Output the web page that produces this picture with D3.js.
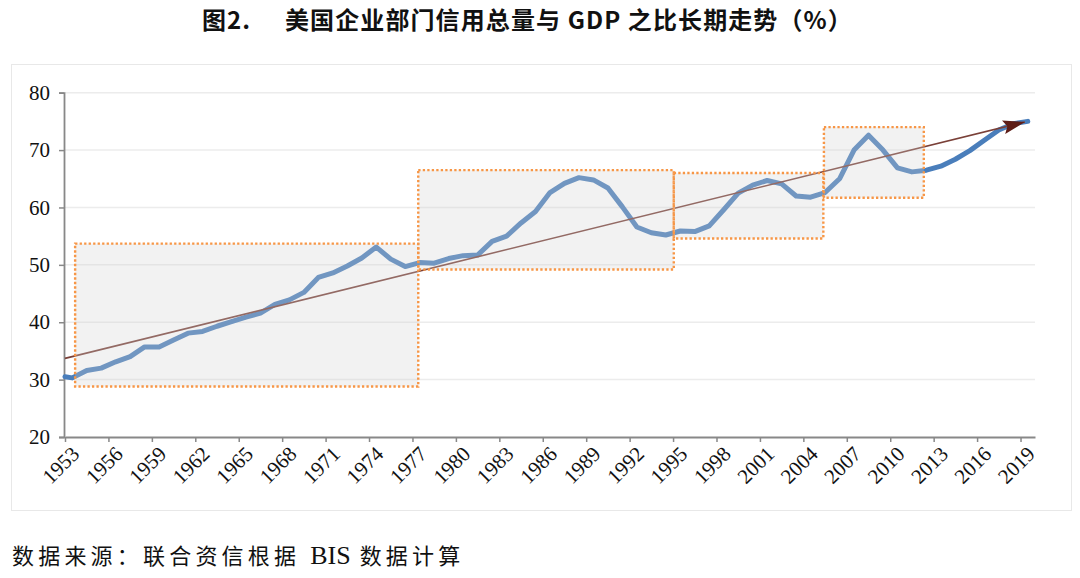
<!DOCTYPE html>
<html>
<head>
<meta charset="utf-8">
<script src="https://cdn.jsdelivr.net/npm/d3@7/dist/d3.min.js"></script>
<style>
  html, body { margin: 0; padding: 0; background: #ffffff; }
  svg { display: block; }
</style>
</head>
<body>
<svg id="chart" width="1080" height="578"></svg>
<script>
// ---------- data ----------
const titlePrefix = "图2.";
const titleMain = "美国企业部门信用总量与 GDP 之比长期走势（%）";
const sourceParts = ["数据来源：联合资信根据", "BIS", "数据计算"];

const years = d3.range(1953, 2020);           // annual observations (plotted mid-year)
const creditToGdp = [
  30.3, 31.6, 32.0, 33.1, 34.0, 35.7, 35.7, 36.9, 38.1, 38.4,   // 1953-1962
  39.3, 40.1, 40.9, 41.6, 43.1, 43.9, 45.2, 47.8, 48.6, 49.8,   // 1963-1972
  51.2, 53.1, 51.0, 49.7, 50.4, 50.3, 51.1, 51.6, 51.7, 54.1,   // 1973-1982
  55.0, 57.3, 59.3, 62.6, 64.2, 65.2, 64.8, 63.4, 60.1, 56.6,   // 1983-1992
  55.6, 55.2, 55.9, 55.8, 56.8, 59.6, 62.5, 63.9, 64.7, 64.1,   // 1993-2002
  62.0, 61.8, 62.6, 65.0, 70.0, 72.6, 70.0, 66.9, 66.2, 66.5,   // 2003-2012
  67.2, 68.4, 69.9, 71.7, 73.5, 74.6, 75.0                      // 2013-2019
];
const seriesStart = { year: 1953, value: 30.5 };

const xTicks = d3.range(1953, 2020, 3);
const yTicks = [20, 30, 40, 50, 60, 70, 80];

// long-run trend line (start, end)
const trendYears = [1953, 2019.3];
const trendValues = [33.7, 74.9];

// highlighted phases
const phaseX0 = [1953.7, 1977.4, 1995.05, 2005.42];
const phaseX1 = [1977.4, 1995.05, 2005.38, 2012.32];
const phaseLow = [28.8, 49.2, 54.6, 61.7];
const phaseHigh = [53.7, 66.5, 66.0, 74.0];

// ---------- layout ----------
const svg = d3.select("#chart");
const plot = { left: 65, right: 1035, top: 92.7, bottom: 437 };
const serif = "'Liberation Serif', 'DejaVu Serif', serif";

const x = d3.scaleLinear().domain([1953, 2020]).range([plot.left, plot.right]);
const y = d3.scaleLinear().domain([20, 80]).range([plot.bottom, plot.top]);

// outer frame
svg.append("rect")
  .attr("x", 11.5).attr("y", 64.5).attr("width", 1060).attr("height", 446)
  .attr("fill", "#ffffff").attr("stroke", "#e8e8e8").attr("stroke-width", 1);

// title
const title = svg.append("text")
  .attr("y", 29)
  .style("font-family", "'Noto Sans CJK SC', 'Noto Sans', sans-serif")
  .attr("font-size", 24).attr("font-weight", "bold").attr("fill", "#111")
  .attr("letter-spacing", 1.1);
title.append("tspan").attr("x", 202).text(titlePrefix);
title.append("tspan").attr("x", 285).text(titleMain);

// source
const src = svg.append("text")
  .attr("x", 12).attr("y", 564)
  .attr("font-size", 22).attr("fill", "#111")
  .style("font-family", "'Noto Sans CJK SC', serif");
src.append("tspan").attr("letter-spacing", 4.2).text(sourceParts[0]);
src.append("tspan").attr("dx", 10).attr("letter-spacing", 0).attr("font-size", 26)
  .style("font-family", serif).text(sourceParts[1]);
src.append("tspan").attr("dx", 9).attr("letter-spacing", 4.2).text(sourceParts[2]);

// gridlines
svg.append("g")
  .selectAll("line")
  .data(yTicks.filter(d => d > 20))
  .join("line")
  .attr("x1", plot.left).attr("x2", plot.right)
  .attr("y1", d => y(d)).attr("y2", d => y(d))
  .attr("stroke", "#ececec").attr("stroke-width", 1.5);

// y axis
const yAxis = svg.append("g")
  .attr("transform", `translate(${plot.left - 1},0)`)
  .call(d3.axisLeft(y).tickValues(yTicks).tickSize(5).tickPadding(9).tickFormat(d3.format("d")));
yAxis.attr("font-family", null);
yAxis.select(".domain").attr("stroke", "#888").attr("stroke-width", 1.8);
yAxis.selectAll(".tick line").attr("stroke", "#888").attr("stroke-width", 1.5);
yAxis.selectAll(".tick text")
  .style("font-family", serif)
  .attr("font-size", 21).attr("fill", "#111");

// x axis
const xAxis = svg.append("g")
  .attr("transform", `translate(0,${plot.bottom})`)
  .call(d3.axisBottom(x).tickValues(xTicks).tickSize(5).tickSizeOuter(0).tickFormat(d3.format("d")));
xAxis.attr("font-family", null);
xAxis.select(".domain").attr("stroke", "#888").attr("stroke-width", 1.8);
xAxis.selectAll(".tick line").attr("stroke", "#888").attr("stroke-width", 1.5);
xAxis.selectAll(".tick text")
  .style("font-family", serif)
  .attr("font-size", 21).attr("fill", "#111")
  .attr("text-anchor", "end")
  .attr("dy", "0.35em")
  .attr("transform", "translate(10,13) rotate(-45)")
  .attr("y", 0).attr("x", 0);

// main series
const pts = [[seriesStart.year, seriesStart.value]].concat(years.map((yr, i) => [yr + 0.5, creditToGdp[i]]));
svg.append("path")
  .datum(pts)
  .attr("fill", "none")
  .attr("stroke", "#4a7ebb").attr("stroke-width", 5)
  .attr("stroke-linejoin", "round").attr("stroke-linecap", "round")
  .attr("d", d3.line().x(d => x(d[0])).y(d => y(d[1])));

// trend arrow
svg.append("defs").append("marker")
  .attr("id", "arrow").attr("viewBox", "0 0 22 14")
  .attr("refX", 22).attr("refY", 7)
  .attr("markerWidth", 22).attr("markerHeight", 14)
  .attr("markerUnits", "userSpaceOnUse")
  .attr("orient", "auto")
  .append("path").attr("d", "M0,0 L22,7 L0,14 L4,7 Z").attr("fill", "#5e1d17");

svg.append("line")
  .attr("x1", x(trendYears[0])).attr("y1", y(trendValues[0]))
  .attr("x2", x(trendYears[1])).attr("y2", y(trendValues[1]))
  .attr("stroke", "#7a4038").attr("stroke-width", 1.6)
  .attr("marker-end", "url(#arrow)");

// phase boxes (translucent overlay + dotted orange border)
svg.append("g")
  .selectAll("rect")
  .data(phaseX0.map((d, i) => i))
  .join("rect")
  .attr("x", i => x(phaseX0[i]))
  .attr("y", i => y(phaseHigh[i]))
  .attr("width", i => x(phaseX1[i]) - x(phaseX0[i]))
  .attr("height", i => y(phaseLow[i]) - y(phaseHigh[i]))
  .attr("fill", "rgb(210,210,210)").attr("fill-opacity", 0.29)
  .attr("stroke", "#f79646").attr("stroke-width", 2.4)
  .attr("stroke-dasharray", "2.3,2.2");
</script>
</body>
</html>
